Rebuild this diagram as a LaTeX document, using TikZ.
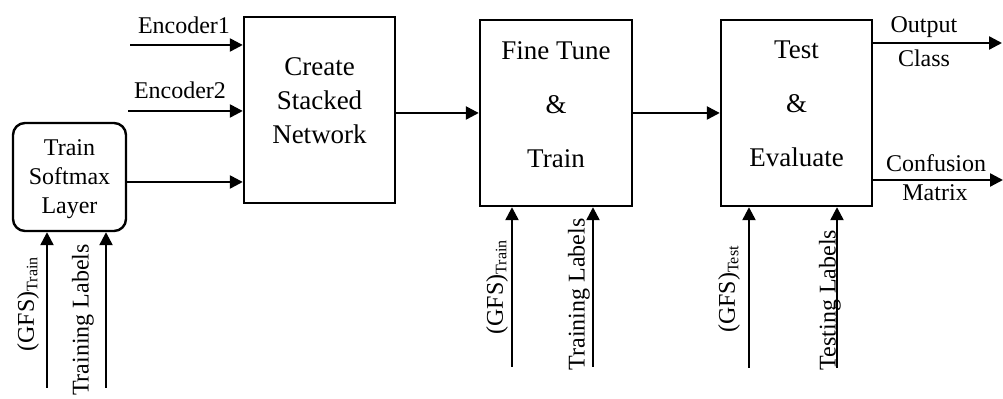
\documentclass[tikz,border=0pt]{standalone}
\usepackage{fontspec}
\setmainfont{Liberation Serif}
\usetikzlibrary{arrows.meta, positioning}

\begin{document}
\begin{tikzpicture}[x=0.5pt, y=-0.5pt,
  stage/.style={draw, line width=1.2pt, minimum width=75.5pt, minimum height=93pt, inner sep=0pt},
  stagetext/.style={align=center, inner sep=0pt, font=\fontsize{13.5}{17}\selectfont},
  flow/.style={line width=1.2pt, -{Triangle[length=6.5pt, width=6.5pt]}},
  lbl/.style={inner sep=0pt, font=\fontsize{12}{14}\selectfont},
  vlbl/.style={lbl, rotate=90}]

  \useasboundingbox (0,0) rectangle (1003,399);

  % Blocks
  \node[stage, rounded corners=6pt, minimum width=56.5pt, minimum height=54pt] (soft) at (69.5,177) {};
  \node[stagetext, font=\fontsize{12}{14.5}\selectfont] (softtxt) at (69.5,179) {Train\\Softmax\\Layer};

  \node[stage] (stack) at (319.5,110) {};
  \node[stagetext] (stacktxt) at (319.5,101) {Create\\Stacked\\Network};

  \node[stage, minimum width=76pt] (fine) at (556,113) {};
  \node[stagetext, font=\fontsize{13.5}{27}\selectfont] (finetxt) at (556,104.5) {Fine Tune\\\&\\Train};

  \node[stage] (test) at (796.5,113) {};
  \node[stagetext, font=\fontsize{13.5}{27}\selectfont] (testtxt) at (796.5,104) {Test\\\&\\Evaluate};

  % Free ends
  \coordinate (enc1) at (130,45);
  \coordinate (enc2) at (128,111);
  \coordinate (outc) at (1002,43);
  \coordinate (conf) at (1003,180);
  \coordinate (s1) at (47,388);
  \coordinate (s2) at (106,388);
  \coordinate (f1) at (512,367);
  \coordinate (f2) at (593,367);
  \coordinate (t1) at (749,368);
  \coordinate (t2) at (837,368);

  % Horizontal flow
  \draw[flow] (enc1) -- (enc1 -| stack.west);
  \draw[flow] (enc2) -- (enc2 -| stack.west);
  \draw[flow] ([yshift=-2.5pt]soft.east) -- ([yshift=-2.5pt]soft.east -| stack.west);
  \draw[flow] (fine.west -| stack.east) -- (fine.west);
  \draw[flow] (fine.east) -- (test.west);
  \draw[flow] (outc -| test.east) -- (outc);
  \draw[flow] (conf -| test.east) -- (conf);

  \node[lbl] (enc1lbl) at (184,25) {Encoder1};
  \node[lbl] (enc2lbl) at (180,90) {Encoder2};
  \node[lbl] (outlbl) at (924,27) {Output};
  \node[lbl] (classlbl) at (924,58) {Class};
  \node[lbl] (conflbl) at (936,163) {Confusion};
  \node[lbl] (matlbl) at (935,193) {Matrix};

  % Vertical inputs
  \draw[flow] (s1) -- (s1 |- soft.south);
  \draw[flow] (s2) -- (s2 |- soft.south);
  \draw[flow] (f1) -- (f1 |- fine.south);
  \draw[flow] (f2) -- (f2 |- fine.south);
  \draw[flow] (t1) -- (t1 |- test.south);
  \draw[flow] (t2) -- (t2 |- test.south);

  \node[vlbl] (gfs1) at (28,304) {(GFS)\textsubscript{Train}};
  \node[vlbl] (tl1) at (83,320) {Training Labels};
  \node[vlbl] (gfs2) at (497,287) {(GFS)\textsubscript{Train}};
  \node[vlbl] (tl2) at (579,294.5) {Training Labels};
  \node[vlbl] (gfs3) at (729,289) {(GFS)\textsubscript{Test}};
  \node[vlbl] (tl3) at (830,300) {Testing Labels};
\end{tikzpicture}
\end{document}
